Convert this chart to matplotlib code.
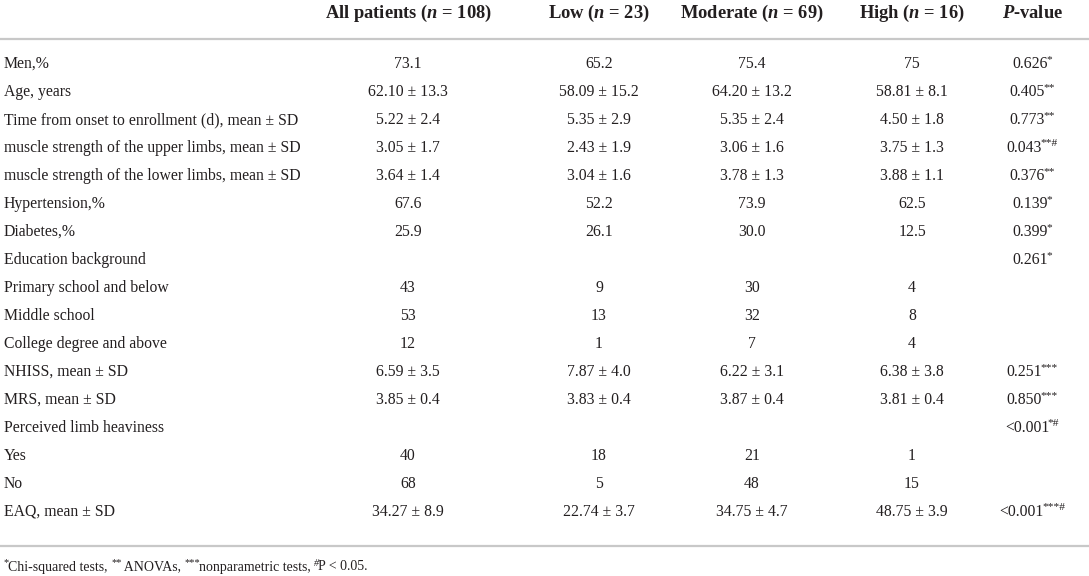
import matplotlib
matplotlib.use("Agg")
import matplotlib.pyplot as plt

plt.rcParams['font.family'] = ['Liberation Serif', 'DejaVu Serif']
plt.rcParams['mathtext.fontset'] = 'custom'
plt.rcParams['mathtext.rm'] = 'Liberation Serif'
plt.rcParams['mathtext.it'] = 'Liberation Serif:italic:bold'
plt.rcParams['mathtext.bf'] = 'Liberation Serif:bold'

headers = [r"All patients ($\mathit{n}$ = 108)", r"Low ($\mathit{n}$ = 23)",
           r"Moderate ($\mathit{n}$ = 69)", r"High ($\mathit{n}$ = 16)", r"$\mathit{P}$-value"]

row_labels = [
    "Men,%",
    "Age, years",
    "Time from onset to enrollment (d), mean ± SD",
    "muscle strength of the upper limbs, mean ± SD",
    "muscle strength of the lower limbs, mean ± SD",
    "Hypertension,%",
    "Diabetes,%",
    "Education background",
    "Primary school and below",
    "Middle school",
    "College degree and above",
    "NHISS, mean ± SD",
    "MRS, mean ± SD",
    "Perceived limb heaviness",
    "Yes",
    "No",
    "EAQ, mean ± SD",
]

all_patients = ["73.1", "62.10 ± 13.3", "5.22 ± 2.4", "3.05 ± 1.7", "3.64 ± 1.4", "67.6", "25.9",
                "", "43", "53", "12", "6.59 ± 3.5", "3.85 ± 0.4", "", "40", "68", "34.27 ± 8.9"]
low = ["65.2", "58.09 ± 15.2", "5.35 ± 2.9", "2.43 ± 1.9", "3.04 ± 1.6", "52.2", "26.1",
       "", "9", "13", "1", "7.87 ± 4.0", "3.83 ± 0.4", "", "18", "5", "22.74 ± 3.7"]
moderate = ["75.4", "64.20 ± 13.2", "5.35 ± 2.4", "3.06 ± 1.6", "3.78 ± 1.3", "73.9", "30.0",
            "", "30", "32", "7", "6.22 ± 3.1", "3.87 ± 0.4", "", "21", "48", "34.75 ± 4.7"]
high = ["75", "58.81 ± 8.1", "4.50 ± 1.8", "3.75 ± 1.3", "3.88 ± 1.1", "62.5", "12.5",
        "", "4", "8", "4", "6.38 ± 3.8", "3.81 ± 0.4", "", "1", "15", "48.75 ± 3.9"]
p_values = ["0.626", "0.405", "0.773", "0.043", "0.376", "0.139", "0.399",
            "0.261", "", "", "", "0.251", "0.850", "<0.001", "", "", "<0.001"]
p_marks = ["*", "**", "**", "**#", "**", "*", "*",
           "*", "", "", "", "***", "***", "*#", "", "", "***#"]

footnote_parts = [("*", True), ("Chi-squared tests, ", False), ("**", True), (" ANOVAs, ", False),
                  ("***", True), ("nonparametric tests, ", False), ("#", True), ("P < 0.05.", False)]

W, H = 1089, 576
fig = plt.figure(figsize=(W / 100, H / 100), dpi=100)
ax = fig.add_axes([0, 0, 1, 1])
ax.set_xlim(0, W)
ax.set_ylim(H, 0)
ax.axis('off')
renderer = fig.canvas.get_renderer()

txt = '#231f20'
col_x = [408, 599, 752, 912, 1033]
y_header = 13
y0 = 64
step = 28
body_fs = 11.3
sup_fs = 8.2


def width_of(t):
    return t.get_window_extent(renderer).width


for x, h in zip(col_x, headers):
    ax.text(x, y_header, h, ha='center', va='center', fontsize=13.3, fontweight='bold', color=txt)

ax.plot([0, W], [39, 39], color='#c8c8c8', lw=1.6, solid_capstyle='butt')

for i, lab in enumerate(row_labels):
    y = y0 + i * step
    ax.text(4, y, lab, ha='left', va='center', fontsize=body_fs, color=txt)
    for x, col in zip(col_x[:4], [all_patients, low, moderate, high]):
        if col[i]:
            ax.text(x, y, col[i], ha='center', va='center', fontsize=body_fs, color=txt)
    if p_values[i]:
        t = ax.text(0, y, p_values[i], ha='left', va='center', fontsize=body_fs, color=txt)
        s = ax.text(0, y - 4.5, p_marks[i], ha='left', va='center', fontsize=sup_fs, color=txt)
        w1, w2 = width_of(t), width_of(s)
        start = col_x[4] - (w1 + w2) / 2
        t.set_x(start)
        s.set_x(start + w1 - 1.5)

y_last = y0 + (len(row_labels) - 1) * step
ax.plot([0, W], [y_last + 34, y_last + 34], color='#c8c8c8', lw=1.6, solid_capstyle='butt')

fx = 4
fy = y_last + 55
for part, sup in footnote_parts:
    if sup:
        t = ax.text(fx, fy - 4, part, ha='left', va='center', fontsize=7.5, color=txt,
                    style='italic' if part == '#' else 'normal')
    else:
        t = ax.text(fx, fy, part, ha='left', va='center', fontsize=10, color=txt)
    fx += width_of(t) - (1.0 if sup else 0)

fig.savefig('out.png', dpi=100, facecolor='white')
